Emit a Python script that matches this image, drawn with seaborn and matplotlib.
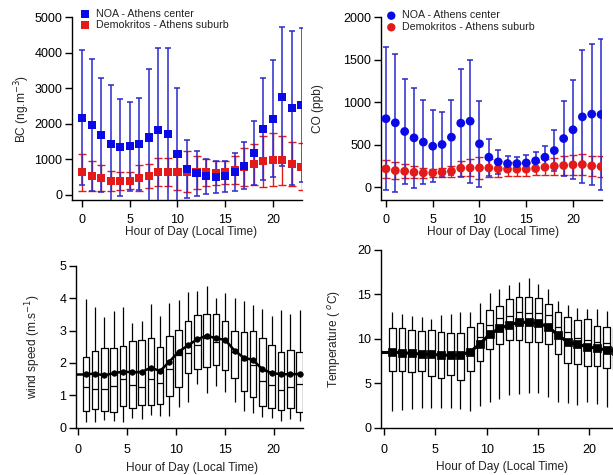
import numpy as np
import pandas as pd
import matplotlib
matplotlib.use("Agg")
import matplotlib.pyplot as plt
import seaborn as sns

# ---------------- data ----------------
hours = np.arange(24)

# Black carbon (ng m-3): mean and standard deviation per hour
bc_noa_mean = [2160, 1960, 1670, 1435, 1330, 1360, 1425, 1610, 1830, 1715, 1145, 730,
               600, 515, 500, 515, 630, 815, 1160, 1850, 2140, 2760, 2430, 2515]
bc_noa_std = [1900, 1870, 1600, 1665, 1360, 1260, 1285, 1920, 2300, 2405, 1845, 820,
              640, 485, 450, 445, 530, 665, 900, 1430, 1650, 1960, 2170, 2165]
bc_dem_mean = [630, 515, 460, 385, 375, 395, 470, 535, 640, 640, 640, 650,
               630, 630, 620, 630, 700, 780, 860, 935, 985, 965, 860, 790]
bc_dem_std = [525, 425, 365, 290, 255, 245, 355, 335, 400, 400, 520, 580,
              470, 380, 340, 330, 400, 540, 580, 725, 750, 685, 630, 660]

# Carbon monoxide (ppb): mean and standard deviation per hour
co_noa_mean = [805, 757, 655, 580, 530, 482, 502, 588, 753, 776, 510, 353,
               298, 278, 278, 286, 310, 353, 431, 572, 675, 827, 859, 855]
co_noa_std = [842, 812, 620, 589, 497, 420, 380, 439, 631, 722, 502, 216,
              143, 87, 83, 90, 106, 129, 244, 440, 580, 781, 827, 882]
co_dem_mean = [216, 196, 188, 176, 169, 169, 176, 188, 224, 227, 227, 227,
               216, 212, 212, 212, 220, 235, 247, 255, 263, 267, 251, 243]
co_dem_std = [105, 95, 85, 70, 55, 50, 50, 65, 90, 100, 130, 105,
              90, 80, 75, 75, 80, 95, 100, 110, 120, 120, 115, 120]

# Wind speed (m s-1): box statistics per hour
ws_low = [0.19, 0.19, 0.24, 0.22, 0.19, 0.29, 0.26, 0.39, 0.35, 0.35, 0.64, 0.80,
          1.34, 1.06, 1.30, 1.11, 0.80, 0.53, 0.45, 0.34, 0.29, 0.22, 0.26, 0.22]
ws_q1 = [0.53, 0.59, 0.51, 0.50, 0.67, 0.61, 0.71, 0.70, 0.73, 0.97, 1.26, 1.68,
         1.81, 1.88, 1.93, 1.77, 1.52, 1.13, 0.95, 0.67, 0.60, 0.55, 0.61, 0.48]
ws_med = [1.27, 1.20, 1.19, 1.28, 1.50, 1.31, 1.27, 1.49, 1.37, 1.82, 2.23, 2.30,
          2.55, 2.78, 2.63, 2.71, 2.35, 2.10, 1.95, 1.44, 1.32, 1.17, 1.27, 1.36]
ws_q3 = [2.19, 2.36, 2.46, 2.46, 2.51, 2.69, 2.72, 2.77, 2.49, 2.83, 3.03, 3.28,
         3.48, 3.51, 3.51, 3.30, 2.98, 2.94, 2.98, 2.77, 2.55, 2.33, 2.41, 2.33]
ws_high = [3.96, 3.73, 3.41, 3.61, 3.73, 3.22, 3.30, 3.81, 3.44, 3.86, 3.94, 4.20,
           4.22, 4.36, 4.01, 4.15, 3.99, 3.91, 3.79, 3.66, 3.45, 3.64, 3.52, 3.63]
ws_mean = [1.66, 1.66, 1.62, 1.68, 1.73, 1.71, 1.72, 1.85, 1.75, 2.04, 2.35, 2.54,
           2.73, 2.84, 2.76, 2.71, 2.38, 2.16, 2.09, 1.80, 1.69, 1.65, 1.65, 1.66]

# Temperature (deg C): box statistics per hour
t_low = [1.88, 1.95, 2.06, 2.18, 2.25, 2.18, 2.18, 2.06, 1.88, 2.40, 2.93, 3.19,
         3.70, 3.75, 3.86, 3.86, 3.45, 2.93, 2.74, 2.51, 2.93, 2.70, 2.36, 2.30]
t_q1 = [6.42, 6.42, 6.23, 6.38, 5.78, 5.63, 5.93, 5.33, 6.42, 7.50, 8.82, 9.46,
        9.83, 9.91, 9.61, 9.68, 9.38, 8.33, 7.24, 7.17, 6.90, 6.98, 6.68, 6.60]
t_med = [8.60, 8.50, 8.78, 8.40, 8.63, 8.30, 8.56, 8.30, 8.48, 10.17, 11.56, 12.38,
         12.57, 13.06, 12.87, 12.87, 12.65, 11.33, 10.81, 10.13, 9.87, 9.68, 9.53, 9.40]
t_q3 = [11.18, 11.18, 11.00, 10.88, 11.00, 10.81, 10.62, 10.62, 11.29, 11.82, 13.20, 13.73,
        14.45, 14.67, 14.71, 14.63, 13.96, 13.06, 12.50, 12.16, 12.23, 11.48, 11.37, 11.20]
t_high = [13.06, 12.80, 12.60, 12.46, 12.23, 12.65, 12.80, 12.98, 13.02, 14.00, 15.12, 15.60,
          16.06, 16.43, 16.85, 16.21, 15.57, 14.26, 13.81, 13.43, 13.40, 13.36, 13.13, 13.00]
t_mean = [8.52, 8.44, 8.37, 8.29, 8.26, 8.18, 8.14, 8.18, 8.56, 9.42, 10.54, 11.18,
          11.56, 11.86, 11.86, 11.74, 11.37, 10.43, 9.64, 9.38, 9.12, 8.93, 8.74, 8.60]

labels = ["NOA - Athens center", "Demokritos - Athens suburb"]
xticks = [0, 5, 10, 15, 20]

# ---------------- style ----------------
sns.set_theme(style="ticks")
plt.rcParams["font.family"] = ["Liberation Sans", "DejaVu Sans"]
plt.rcParams.update({
    "axes.linewidth": 1.0,
    "axes.edgecolor": "black",
    "xtick.major.size": 5, "ytick.major.size": 5,
    "xtick.major.width": 1.0, "ytick.major.width": 1.0,
    "xtick.labelsize": 9, "ytick.labelsize": 9,
    "axes.labelsize": 8.6,
    "xtick.color": "black", "ytick.color": "black",
    "text.color": "#222222", "axes.labelcolor": "#222222",
})

BLUE = "#0a0ae6"
BLUE_BAR = "#2a2acc"
RED = "#e41a1a"

W, H = 613, 475
fig = plt.figure(figsize=(W / 100, H / 100), dpi=100)


def add_axes(left, right, top, bottom):
    return fig.add_axes([left / W, 1 - bottom / H, (right - left) / W, (bottom - top) / H])


def frame(ax, xlim, ylim, yticks, ylabel, ylab_x, xlab_y, xlab_x, xpad):
    ax.set_xlim(*xlim)
    ax.set_ylim(*ylim)
    ax.set_xticks(xticks)
    ax.set_yticks(yticks)
    sns.despine(ax=ax)
    ax.tick_params(axis="x", pad=xpad)
    ax.tick_params(axis="y", pad=2)
    ax.set_xlabel("Hour of Day (Local Time)")
    ax.set_ylabel(ylabel)
    ax.yaxis.set_label_coords(ylab_x, 0.5)
    ax.xaxis.set_label_coords(xlab_x, xlab_y)
    ax.patch.set_alpha(0)


def mean_std_panel(ax, noa_m, noa_s, dem_m, dem_s, marker, size):
    ax.errorbar(hours, dem_m, yerr=dem_s, fmt="none", ecolor=RED,
                elinewidth=1.0, capsize=2.6, capthick=1.0, zorder=2)
    ax.errorbar(hours, noa_m, yerr=noa_s, fmt="none", ecolor=BLUE_BAR,
                elinewidth=1.1, capsize=2.4, capthick=1.1, zorder=3)
    sns.scatterplot(x=hours, y=dem_m, marker=marker, s=size, color=RED,
                    edgecolor="none", ax=ax, label=labels[1], zorder=4)
    sns.scatterplot(x=hours, y=noa_m, marker=marker, s=size, color=BLUE,
                    edgecolor="none", ax=ax, label=labels[0], zorder=5)
    handles, labs = ax.get_legend_handles_labels()
    order = [labs.index(l) for l in labels]
    return [handles[i] for i in order]


def box_panel(ax, low, q1, med, q3, high, mean, marker, ms, lw):
    pos = np.round(0.8 + hours * 0.95, 3)
    stats = np.column_stack([low, q1, med, q3, high])
    df = pd.DataFrame({"pos": np.repeat(pos, 5), "val": stats.ravel()})
    sns.boxplot(data=df, x="pos", y="val", native_scale=True, whis=(0, 100),
                width=0.7, fill=False, color="black", linewidth=0.9,
                showcaps=False, ax=ax)
    sns.lineplot(x=pos, y=mean, color="black", lw=lw, marker=marker, ms=ms,
                 mec="black", mew=0.5, ax=ax, zorder=5)
    x0, x1 = ax.get_xlim()
    ax.plot([x0 + 0.2, pos[0]], [mean[0], mean[0]], color="black", lw=lw, zorder=5)
    ax.plot([pos[-1], x1], [mean[-1], mean[-1]], color="black", lw=lw, zorder=5)


# ---- BC ----
ax1 = add_axes(72, 302, 17, 200)
h = mean_std_panel(ax1, bc_noa_mean, bc_noa_std, bc_dem_mean, bc_dem_std, "s", 34)
frame(ax1, (-1.05, 23.05), (-150, 5000), range(0, 5001, 1000),
      "BC (ng.m$^{-3}$)", -0.175, -0.14, 0.517, 5)
ax1.legend(h, labels, loc="upper left", bbox_to_anchor=(81 / W, 1 - 9 / H),
           bbox_transform=fig.transFigure, frameon=False, fontsize=7.7,
           borderpad=0, borderaxespad=0, handlelength=0.8, handletextpad=0.6,
           labelspacing=0.1, markerscale=0.95)

# ---- CO ----
ax2 = add_axes(381, 602, 17, 200)
h = mean_std_panel(ax2, co_noa_mean, co_noa_std, co_dem_mean, co_dem_std, "o", 40)
frame(ax2, (-0.53, 23.1), (-150, 2000), range(0, 2001, 500),
      "CO (ppb)", -0.258, -0.14, 0.507, 5)
ax2.legend(h, labels, loc="upper left", bbox_to_anchor=(387 / W, 1 - 10.5 / H),
           bbox_transform=fig.transFigure, frameon=False, fontsize=7.7,
           borderpad=0, borderaxespad=0, handlelength=0.8, handletextpad=0.6,
           labelspacing=0.15, markerscale=0.95)

# ---- wind speed ----
ax3 = add_axes(76, 303, 265.7, 427.7)
box_panel(ax3, ws_low, ws_q1, ws_med, ws_q3, ws_high, ws_mean, "o", 4, 1.8)
frame(ax3, (-0.2, 23.0), (0, 5), range(0, 6),
      "wind speed (m.s$^{-1}$)", -0.144, -0.21, 0.51, 6.5)

# ---- temperature ----
ax4 = add_axes(381, 620, 250, 427.7)
box_panel(ax4, t_low, t_q1, t_med, t_q3, t_high, t_mean, "s", 5.5, 2.2)
frame(ax4, (-0.3, 23.0), (0, 20), range(0, 21, 5),
      "Temperature ( $^{o}$C)", -0.159, -0.187, 0.505, 6.5)

fig.savefig("out.png", dpi=100)
